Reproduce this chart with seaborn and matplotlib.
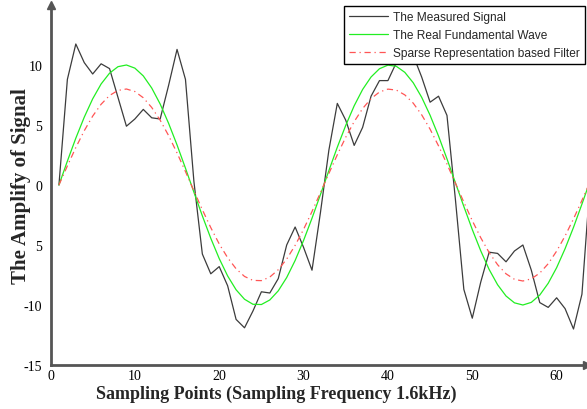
import numpy as np
import pandas as pd
import matplotlib
matplotlib.use("Agg")
import matplotlib.pyplot as plt
import seaborn as sns

# sample index 1..64
sample_points = list(range(1, 65))

measured_signal = [0, 8.8, 11.75, 10.2, 9.25, 10.1, 9.7, 7.3, 4.9, 5.5,
                   6.3, 5.6, 5.5, 8.3, 11.3, 8.8, 0.3, -5.75, -7.4, -6.8,
                   -8.4, -11.2, -11.9, -10.5, -8.9, -9.0, -7.8, -5.0, -3.5, -5.2,
                   -7.1, -2.3, 2.9, 6.8, 5.4, 3.3, 4.8, 7.4, 8.7, 8.7,
                   10.2, 11.0, 10.8, 9.0, 6.9, 7.4, 5.8, -1.2, -8.7, -11.1,
                   -8.1, -5.6, -5.7, -6.4, -5.5, -5.0, -7.1, -9.8, -10.2, -9.4,
                   -10.3, -12.0, -9.1, 0.5]

fundamental_wave = [0, 1.99, 3.90, 5.65, 7.18, 8.42, 9.32, 9.86, 10.0, 9.74,
                    9.09, 8.08, 6.75, 5.14, 3.34, 1.40, -0.60, -2.57, -4.44, -6.13,
                    -7.58, -8.73, -9.52, -9.94, -9.96, -9.58, -8.82, -7.71, -6.29, -4.62,
                    -2.77, -0.80, 1.20, 3.15, 4.97, 6.60, 7.96, 9.00, 9.69, 9.99,
                    9.89, 9.39, 8.52, 7.31, 5.81, 4.08, 2.18, 0.19, -1.79, -3.71,
                    -5.48, -7.04, -8.31, -9.25, -9.82, -10.0, -9.78, -9.17, -8.19, -6.89,
                    -5.31, -3.53, -1.59, 0.40]

sparse_filter = [0, 1.59, 3.12, 4.52, 5.74, 6.73, 7.46, 7.88, 8.00, 7.79,
                 7.27, 6.46, 5.40, 4.12, 2.67, 1.12, -0.48, -2.06, -3.55, -4.91,
                 -6.06, -6.98, -7.62, -7.95, -7.97, -7.67, -7.06, -6.17, -5.03, -3.70,
                 -2.21, -0.64, 0.96, 2.52, 3.98, 5.28, 6.37, 7.20, 7.75, 7.99,
                 7.91, 7.51, 6.82, 5.85, 4.65, 3.26, 1.75, 0.15, -1.43, -2.97,
                 -4.39, -5.63, -6.64, -7.40, -7.86, -8.00, -7.82, -7.34, -6.56, -5.51,
                 -4.25, -2.82, -1.28, 0.32]

y_ticks = [-15, -10, -5, 0, 5, 10]
y_tick_labels = ["-15", "-10", "5", "0", "5", "10"]
x_ticks = [0, 10, 20, 30, 40, 50, 60]

df = pd.DataFrame({"n": sample_points,
                   "measured": measured_signal,
                   "real": fundamental_wave,
                   "sparse": sparse_filter})

sns.set_style("white")
plt.rcParams['font.family'] = ['Liberation Serif', 'DejaVu Serif']

fig = plt.figure(figsize=(5.87, 4.10), dpi=100)
ax = fig.add_axes([50.5 / 587, 44 / 410, 1 - 50.5 / 587, 360 / 410])

sns.lineplot(data=df, x="n", y="measured", ax=ax, color="#3c3c3c", linewidth=0.9,
             label="The Measured Signal")
sns.lineplot(data=df, x="n", y="real", ax=ax, color="#22ee22", linewidth=0.9,
             label="The Real Fundamental Wave")
sns.lineplot(data=df, x="n", y="sparse", ax=ax, color="#ff5555", linewidth=0.9,
             linestyle=(0, (5, 3, 1, 3)), label="Sparse Representation based Filter")

ax.set_xlim(0, 63.6)
ax.set_ylim(-15, 15)
ax.set_xticks(x_ticks)
ax.set_yticks(y_ticks)
ax.set_yticklabels(y_tick_labels)
ax.tick_params(axis="both", direction="in", length=4, width=0.8, color="#555555",
               labelsize=10, labelcolor="black")
ax.tick_params(axis="y", pad=6)
ax.tick_params(axis="x", pad=3)

for side in ["top", "right"]:
    ax.spines[side].set_visible(False)
for side in ["left", "bottom"]:
    ax.spines[side].set_color("#555555")
    ax.spines[side].set_linewidth(2)

# arrow heads on the axes
ax.plot(0, 1, "^", transform=ax.transAxes, color="#555555", markersize=6, clip_on=False)
ax.plot(1, 0, ">", transform=ax.transAxes, color="#555555", markersize=6, clip_on=False)

ax.set_xlabel("Sampling Points (Sampling Frequency 1.6kHz)", fontsize=13, fontweight="bold")
ax.set_ylabel("The Amplify of Signal", fontsize=15, fontweight="bold")
ax.xaxis.set_label_coords(0.42, -0.055)
ax.yaxis.set_label_coords(-0.036, 0.5)

leg = ax.legend(loc="upper left", bbox_to_anchor=(344 / 587, 1 - 7 / 410),
                bbox_transform=fig.transFigure, borderaxespad=0, frameon=True,
                fancybox=False, edgecolor="black", handlelength=3.3,
                handletextpad=0.4, labelspacing=0.5, borderpad=0.4,
                prop={"family": "Liberation Sans", "size": 8.6})
leg.get_frame().set_linewidth(1.0)
leg.get_frame().set_alpha(1)

fig.savefig("out.png", dpi=100)
